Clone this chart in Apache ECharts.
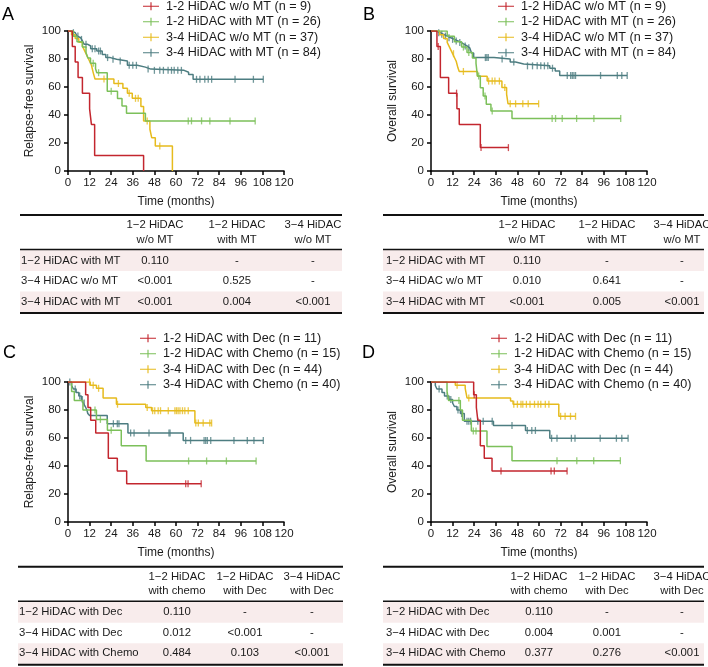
<!DOCTYPE html>
<html>
<head>
<meta charset="utf-8">
<script src="https://cdn.jsdelivr.net/npm/echarts@6/dist/echarts.min.js"></script>
<style>html,body{margin:0;padding:0;background:#fff}#main{width:708px;height:667px}</style>
</head>
<body>
<div id="main"></div>
<script>
// group names
const namesMT = ['1-2 HiDAC w/o MT (n = 9)', '1-2 HiDAC with MT (n = 26)', '3-4 HiDAC w/o MT (n = 37)', '3-4 HiDAC with MT (n = 84)'];
const namesDec = ['1-2 HiDAC with Dec (n = 11)', '1-2 HiDAC with Chemo (n = 15)', '3-4 HiDAC with Dec (n = 44)', '3-4 HiDAC with Chemo (n = 40)'];
const colors = ['#c3262e', '#7cc05a', '#e6bb1d', '#4d7d81'];
const xTicks = { min: 0, max: 120, step: 12 };

// A: relapse-free survival, MT groups  ([month, survival %] at each step)
const A_red = [[0,100],[2.4,88.9],[4,77.8],[5.6,66.7],[8,55.6],[12,44.4],[13,33.3],[14.8,11.1],[42,0]];
const A_redCens = [];
const A_green = [[0,100],[3,96.2],[5,92.3],[8,88.5],[10,84.6],[11,80.8],[12.5,76.9],[15.3,73.1],[16,70.2],[21.8,57],[27.5,51.7],[30,46.4],[32.5,41.2],[43,35.8],[104,35.8]];
const A_greenCens = [14, 17, 24, 66.8, 68.6, 74.2, 78.8, 90, 104];
const A_yellow = [[0,100],[2,97.3],[4,94.6],[6,91.9],[8,89.2],[9,86.5],[10,83.8],[11,81.1],[12,78.4],[13,75.7],[14,70.3],[15,65.7],[25.5,62.5],[30.5,59.1],[33,55.6],[35.7,51.9],[40.5,46.1],[42,35.7],[45.5,29.8],[46.5,23.8],[48.5,17.9],[58,0]];
const A_yellowCens = [20, 28, 34, 37.5, 39, 44, 51];
const A_teal = [[0,100],[2,98.8],[4,97.6],[5,96.4],[6,95.2],[7,94],[8,92.9],[9,90.5],[11,89.3],[12.6,87.4],[16,85.7],[19,83.3],[21,81],[23.5,79.8],[27,78.5],[33,75.5],[38.5,74.2],[43,72.8],[46,71.9],[64.5,70.5],[67,68.9],[69.5,65.5],[108.5,65.5]];
const A_tealCens = [3, 5.5, 7.5, 10, 13.5, 15, 17, 18, 22, 25, 29, 34, 36, 38, 44.5, 48, 51, 53, 55.6, 57.5, 59, 61, 63, 71.4, 73.3, 76, 77.9, 79.8, 92.8, 103, 108.5];

// B: overall survival, MT groups
const B_red = [[0,100],[3.3,88.9],[5.2,66.7],[9.8,55.6],[14.4,44.4],[15.7,33.3],[27.4,16.7],[43,16.7]];
const B_redCens = [4, 14.2, 27.8, 43];
const B_green = [[0,100],[9,96.2],[13,92.3],[17,88.5],[20,84.6],[23,80.8],[25,76.9],[25.8,67.8],[27.4,59.5],[29,53.6],[30.7,47.6],[33.3,42.9],[45,37.5],[105.4,37.5]];
const B_greenCens = [18, 21, 26.5, 30, 34, 67.3, 69.2, 72.9, 80.9, 90.5, 105.4];
const B_yellow = [[0,100],[4.8,97.3],[7,94.6],[9,91.9],[10,89.2],[11,86.5],[12,83.8],[13,81.1],[14,78.4],[15,73.5],[15.7,71.1],[25.8,67.6],[31.2,64.2],[39.4,59.6],[42,54.9],[42.8,48],[59.8,48]];
const B_yellowCens = [12.5, 18, 32, 34, 35.5, 38, 41, 44, 47, 51, 54, 59.8];
const B_teal = [[0,100],[3,98.8],[5,97.6],[7,96.4],[9,95.2],[11,94],[13,92.9],[15,91.7],[17,90.5],[18.5,89.3],[20,88],[21.5,86.8],[22.5,84.3],[23.7,81],[35,80],[44,77.9],[47,76.5],[51.5,75.1],[66,73.4],[69,71.4],[71.5,68.2],[109,68.2]];
const B_tealCens = [4.3, 6, 8, 10, 12, 14, 16, 19, 21, 30.2, 31, 31.8, 39.5, 46, 53.6, 56.4, 59, 61, 63, 64.9, 67.5, 75.7, 77.6, 78.5, 79.4, 80.3, 94.2, 103.5, 106, 109];

// C: relapse-free survival, Dec / Chemo groups
const C_red = [[0,100],[9.8,90.9],[11.1,81.8],[12.6,72.7],[15.4,63.6],[22.4,45.5],[27.4,36.4],[32.6,27.3],[74,27.3]];
const C_redCens = [65.4, 66.7, 74];
const C_green = [[0,100],[2,93.3],[3.5,86.7],[8.3,80],[15.8,73.3],[21.9,65.5],[29.6,54.5],[43.4,43.6],[104.5,43.6]];
const C_greenCens = [15, 18, 24, 67, 77, 88, 104.5];
const C_yellow = [[0,100],[12.4,97.7],[15.8,95.5],[19.5,88.6],[26.9,84.1],[43.2,81.8],[46.4,79.5],[70.5,70.7],[79.8,70.7]];
const C_yellowCens = [12, 14, 17, 27.5, 44, 47, 48.2, 50.1, 51.4, 55.7, 59.4, 60.3, 61.2, 62.2, 63.6, 64.9, 66.8, 71, 72.4, 75.1, 78.8, 79.8];
const C_teal = [[0,100],[2,97.5],[3,95],[4.5,92.5],[6,90],[7.4,87.5],[8.5,85],[9.6,82.5],[10.5,80],[11,77.5],[12,76],[21.8,70.2],[33.3,63.6],[64,58.3],[108.5,58.3]];
const C_tealCens = [1, 4, 6.5, 8, 9, 25.2, 27.4, 28.3, 34.8, 36.7, 45, 56.1, 56.7, 65.4, 68.1, 75.6, 76.5, 77.4, 79.3, 92.2, 99.6, 103.3, 108.5];

// D: overall survival, Dec / Chemo groups
const D_red = [[0,100],[23.7,90.9],[25.2,81.8],[26,72.7],[27.4,54.5],[29.6,45.5],[33.9,36.4],[75.6,36.4]];
const D_redCens = [24, 38.9, 66.7, 68.5, 75.6];
const D_green = [[0,100],[8.9,93.3],[9.8,86.7],[16.3,80],[17.5,72.7],[22.4,65],[31.1,54],[45,43.8],[105.2,43.8]];
const D_greenCens = [15.5, 23.5, 25, 70, 81, 90.4, 105.2];
const D_yellow = [[0,100],[13.5,97.7],[19,95.5],[20,88.6],[44.2,86.4],[45.6,84.1],[71,75.5],[80.3,75.5]];
const D_yellowCens = [14.5, 21, 46, 48, 50, 51, 53, 55, 57.5, 59.5, 61, 63.5, 65.5, 72, 74.5, 77.5, 80.3];
const D_teal = [[0,100],[2.4,97.5],[3.3,95],[6.1,92.5],[7.5,90],[10,87.5],[12,85],[13,82.5],[14.4,80],[16.3,77.5],[18.5,72],[34.7,69],[52.5,65.4],[66,59.8],[109.5,59.8]];
const D_tealCens = [4.5, 9, 11, 15, 17, 20, 21, 22, 26, 29, 34, 45, 53.5, 56, 58, 67, 70, 78, 80, 94, 103, 106, 109.5];

// log-rank p-value tables
const colsMT = ['1\u22122 HiDAC\nw/o MT', '1\u22122 HiDAC\nwith MT', '3\u22124 HiDAC\nw/o MT'];
const rowsMT = ['1\u22122 HiDAC with MT', '3\u22124 HiDAC w/o MT', '3\u22124 HiDAC with MT'];
const pA = [['0.110', '-', '-'], ['<0.001', '0.525', '-'], ['<0.001', '0.004', '<0.001']];
const pB = [['0.110', '-', '-'], ['0.010', '0.641', '-'], ['<0.001', '0.005', '<0.001']];
const colsDec = ['1\u22122 HiDAC\nwith chemo', '1\u22122 HiDAC\nwith Dec', '3\u22124 HiDAC\nwith Dec'];
const rowsDec = ['1\u22122 HiDAC with Dec', '3\u22124 HiDAC with Dec', '3\u22124 HiDAC with Chemo'];
const pC = [['0.110', '-', '-'], ['0.012', '<0.001', '-'], ['0.484', '0.103', '<0.001']];
const pD = [['0.110', '-', '-'], ['0.004', '0.001', '-'], ['0.377', '0.276', '<0.001']];

const FONT = "'Liberation Sans', Arial, sans-serif";
const INK = '#1a1a1a';
const PINK = '#f8ecec';
const legendIcon = 'path://M0,4.3H20V5.7H0ZM9.3,0H10.7V10H9.3Z';

const panels = [
  { letter: 'A', lx: 2, ly: 15, steps: [A_red, A_green, A_yellow, A_teal], cens: [A_redCens, A_greenCens, A_yellowCens, A_tealCens],
    names: namesMT, yName: 'Relapse-free survival', left: 68, top: 31, legLeft: 143, legTop: -1.5 },
  { letter: 'B', lx: 363, ly: 15, steps: [B_red, B_green, B_yellow, B_teal], cens: [B_redCens, B_greenCens, B_yellowCens, B_tealCens],
    names: namesMT, yName: 'Overall survival', left: 431, top: 31, legLeft: 498, legTop: -1.5 },
  { letter: 'C', lx: 3, ly: 353, steps: [C_red, C_green, C_yellow, C_teal], cens: [C_redCens, C_greenCens, C_yellowCens, C_tealCens],
    names: namesDec, yName: 'Relapse-free survival', left: 68, top: 382, legLeft: 140, legTop: 330.5 },
  { letter: 'D', lx: 362, ly: 353, steps: [D_red, D_green, D_yellow, D_teal], cens: [D_redCens, D_greenCens, D_yellowCens, D_tealCens],
    names: namesDec, yName: 'Overall survival', left: 431, top: 382, legLeft: 491, legTop: 330.5 }
];

const tables = [
  { x0: 20, x1: 342, top: 215, labelX: 21, colX: [155, 237, 313], cols: colsMT, rows: rowsMT, vals: pA },
  { x0: 383, x1: 704, top: 215, labelX: 386, colX: [527, 607, 682], cols: colsMT, rows: rowsMT, vals: pB },
  { x0: 18, x1: 343, top: 566.7, labelX: 19, colX: [177, 245, 312], cols: colsDec, rows: rowsDec, vals: pC },
  { x0: 383, x1: 704, top: 566.7, labelX: 386, colX: [539, 607, 682], cols: colsDec, rows: rowsDec, vals: pD }
];

// survival value of a step curve at time t (used to sit censor ticks on the curve)
const survAt = (steps, t) => {
  let v = steps[0][1];
  for (const [x, y] of steps) {
    if (x <= t) v = y; else break;
  }
  return v;
};

const grid = [], xAxis = [], yAxis = [], legend = [], series = [], graphic = [];

panels.forEach((p, i) => {
  grid.push({ left: p.left, top: p.top, width: 216, height: 140, containLabel: false, outerBoundsMode: 'none' });
  xAxis.push({
    gridIndex: i, type: 'value', min: xTicks.min, max: xTicks.max, interval: xTicks.step,
    name: 'Time (months)', nameLocation: 'middle', nameGap: 25,
    nameTextStyle: { fontSize: 12, color: INK, fontFamily: FONT },
    axisLine: { show: true, onZero: false, lineStyle: { color: '#000', width: 1.5 } },
    axisTick: { show: true, length: 4, lineStyle: { color: '#000', width: 1.5 } },
    axisLabel: { fontSize: 11.5, color: INK, margin: 6, fontFamily: FONT },
    splitLine: { show: false }
  });
  yAxis.push({
    gridIndex: i, type: 'value', min: 0, max: 100, interval: 20,
    name: p.yName, nameLocation: 'middle', nameGap: 32,
    nameTextStyle: { fontSize: 12, color: INK, fontFamily: FONT },
    axisLine: { show: true, onZero: false, lineStyle: { color: '#000', width: 1.5 } },
    axisTick: { show: true, length: 4, lineStyle: { color: '#000', width: 1.5 } },
    axisLabel: { fontSize: 11.5, color: INK, margin: 7, fontFamily: FONT },
    splitLine: { show: false }
  });
  legend.push({
    orient: 'vertical', left: p.legLeft, top: p.legTop, padding: 0, itemGap: 0,
    itemWidth: 20, itemHeight: 8,
    textStyle: { fontSize: 12.6, color: INK, fontFamily: FONT, lineHeight: 15.5 },
    data: p.names.map((n) => ({ name: n, icon: legendIcon }))
  });
  p.steps.forEach((st, k) => {
    series.push({
      name: p.names[k], type: 'line', step: 'end', xAxisIndex: i, yAxisIndex: i,
      data: st, showSymbol: false, symbol: 'none', z: 5 - k,
      itemStyle: { color: colors[k] },
      lineStyle: { color: colors[k], width: 1.5 },
      animation: false
    });
    series.push({
      name: 'cens' + i + '-' + k, type: 'scatter', xAxisIndex: i, yAxisIndex: i,
      data: p.cens[k].map((t) => [t, survAt(st, t)]),
      symbol: 'rect', symbolSize: [1.3, 7], z: 5 - k, silent: true,
      itemStyle: { color: colors[k] },
      animation: false
    });
  });
  graphic.push({
    type: 'text', style: { text: p.letter, x: p.lx, y: p.ly, verticalAlign: 'middle', fontSize: 18, fontFamily: FONT, fill: '#000' }
  });
});

tables.forEach((t) => {
  const w = t.x1 - t.x0;
  graphic.push({ type: 'rect', shape: { x: t.x0, y: t.top + 35, width: w, height: 21 }, style: { fill: PINK } });
  graphic.push({ type: 'rect', shape: { x: t.x0, y: t.top + 76.5, width: w, height: 21 }, style: { fill: PINK } });
  [[0, 2], [34.5, 1.5], [98, 2]].forEach(([dy, lw]) => {
    graphic.push({ type: 'line', shape: { x1: t.x0, y1: t.top + dy, x2: t.x1, y2: t.top + dy }, style: { stroke: '#111', lineWidth: lw } });
  });
  t.cols.forEach((c, j) => {
    graphic.push({ type: 'text', style: { text: c, x: t.colX[j], y: t.top + 17.5, align: 'center', verticalAlign: 'middle',
      fontSize: 11.3, lineHeight: 14.3, fontFamily: FONT, fill: INK } });
  });
  const rowY = [45.5, 66, 86.5];
  t.rows.forEach((r, k) => {
    graphic.push({ type: 'text', style: { text: r, x: t.labelX, y: t.top + rowY[k], align: 'left', verticalAlign: 'middle',
      fontSize: 11.3, fontFamily: FONT, fill: INK } });
    t.vals[k].forEach((v, j) => {
      graphic.push({ type: 'text', style: { text: v, x: t.colX[j], y: t.top + rowY[k], align: 'center', verticalAlign: 'middle',
        fontSize: 11.3, fontFamily: FONT, fill: INK } });
    });
  });
});

const chart = echarts.init(document.getElementById('main'), null, { renderer: 'canvas' });
chart.setOption({
  backgroundColor: '#fff',
  animation: false,
  textStyle: { fontFamily: FONT },
  grid, xAxis, yAxis, legend, series, graphic
});
</script>
</body>
</html>
